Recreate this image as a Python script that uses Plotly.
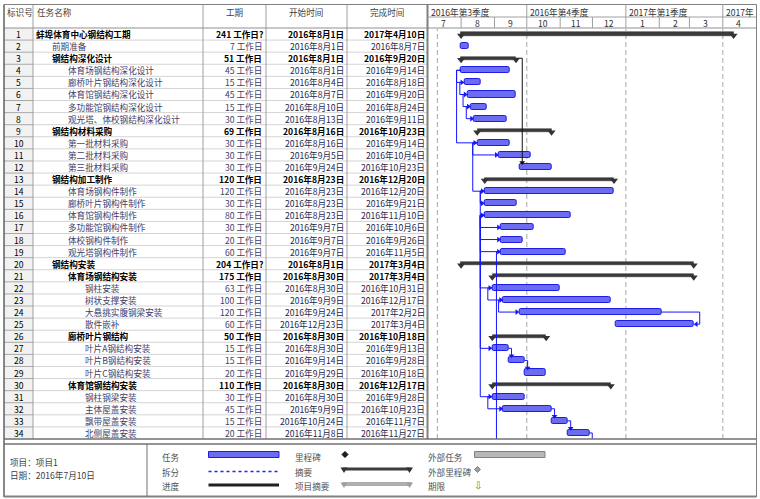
import plotly.graph_objects as go
from datetime import datetime, timedelta

W, H = 760, 499

# ---------------- data ----------------
task_ids = list(range(1, 35))
task_names = ["蚌埠体育中心钢结构工期", "前期准备", "钢结构深化设计", "体育场钢结构深化设计",
              "廊桥叶片钢结构深化设计", "体育馆钢结构深化设计", "多功能馆钢结构深化设计",
              "观光塔、体校钢结构深化设计", "钢结构材料采购", "第一批材料采购", "第二批材料采购",
              "第三批材料采购", "钢结构加工制作", "体育场钢构件制作", "廊桥叶片钢构件制作",
              "体育馆钢构件制作", "多功能馆钢构件制作", "体校钢构件制作", "观光塔钢构件制作",
              "钢结构安装", "体育场钢结构安装", "钢柱安装", "树状支撑安装", "大悬挑实腹钢梁安装",
              "散件嵌补", "廊桥叶片钢结构", "叶片A钢结构安装", "叶片B钢结构安装", "叶片C钢结构安装",
              "体育馆钢结构安装", "钢柱钢梁安装", "主体屋盖安装", "飘带屋盖安装", "北侧屋盖安装"]
outline_levels = [0, 1, 1, 2, 2, 2, 2, 2, 1, 2, 2, 2, 1, 2, 2, 2, 2, 2, 2, 1, 2, 3, 3, 3, 3, 2, 3, 3, 3, 2, 3, 3, 3, 3]
is_summary = [1, 0, 1, 0, 0, 0, 0, 0, 1, 0, 0, 0, 1, 0, 0, 0, 0, 0, 0, 1, 1, 0, 0, 0, 0, 1, 0, 0, 0, 1, 0, 0, 0, 0]
duration_days = [241, 7, 51, 45, 15, 45, 15, 30, 69, 30, 30, 30, 120, 120, 30, 80, 30, 20, 60,
                 204, 175, 63, 100, 120, 60, 50, 15, 15, 20, 110, 30, 45, 15, 20]
duration_estimated = [1, 0, 0, 0, 0, 0, 0, 0, 0, 0, 0, 0, 0, 0, 0, 0, 0, 0, 0, 1, 0, 0, 0, 0, 0, 0, 0, 0, 0, 0, 0, 0, 0, 0]
start_dates = ["2016-08-01", "2016-08-01", "2016-08-01", "2016-08-01", "2016-08-04", "2016-08-07",
               "2016-08-10", "2016-08-13", "2016-08-16", "2016-08-16", "2016-09-05", "2016-09-24",
               "2016-08-23", "2016-08-23", "2016-08-23", "2016-08-23", "2016-09-07", "2016-09-07",
               "2016-09-07", "2016-08-01", "2016-08-30", "2016-08-30", "2016-09-09", "2016-09-24",
               "2016-12-23", "2016-08-30", "2016-08-30", "2016-09-14", "2016-09-29", "2016-08-30",
               "2016-08-30", "2016-09-09", "2016-10-24", "2016-11-08"]
finish_dates = ["2017-04-10", "2016-08-07", "2016-09-20", "2016-09-14", "2016-08-18", "2016-09-20",
                "2016-08-24", "2016-09-11", "2016-10-23", "2016-09-14", "2016-10-04", "2016-10-23",
                "2016-12-20", "2016-12-20", "2016-09-21", "2016-11-10", "2016-10-06", "2016-09-26",
                "2016-11-05", "2017-03-04", "2017-03-04", "2016-10-31", "2016-12-17", "2017-02-02",
                "2017-03-04", "2016-10-18", "2016-09-13", "2016-09-28", "2016-10-18", "2016-12-17",
                "2016-09-28", "2016-10-23", "2016-11-07", "2016-11-27"]
# (predecessor, successor, type); successor None = task below the visible rows
links = [(4, 5, "SS"), (5, 6, "SS"), (6, 7, "SS"), (7, 8, "SS"), (4, 10, "SS"), (3, 12, "FS"),
         (10, 11, "SS"), (10, 14, "SS"), (14, 15, "SS"), (14, 16, "SS"), (16, 17, "SS"),
         (16, 18, "SS"), (16, 19, "SS"), (16, 22, "SS"), (16, 27, "SS"), (16, 31, "SS"),
         (19, None, "SS"), (22, 23, "SS"), (23, 24, "SS"), (24, 25, "FF"), (27, 28, "FS"),
         (28, 29, "FS"), (31, 32, "SS"), (32, 33, "FS"), (33, 34, "FS"), (34, None, "FS")]

column_headers = ["标识号", "任务名称", "工期", "开始时间", "完成时间"]
quarter_starts = ["2016-07-01", "2016-10-01", "2017-01-01", "2017-04-01"]
quarter_labels = ["2016年第3季度", "2016年第4季度", "2017年第1季度", "2017年"]
month_starts = ["2016-07-01", "2016-08-01", "2016-09-01", "2016-10-01", "2016-11-01", "2016-12-01",
                "2017-01-01", "2017-02-01", "2017-03-01", "2017-04-01"]
month_labels = ["7", "8", "9", "10", "11", "12", "1", "2", "3", "4"]
project_start_line = "2016-07-10"
project_info = ["项目：项目1", "日期：2016年7月10日"]
legend_labels = [["任务", "拆分", "进度"], ["里程碑", "摘要", "项目摘要"], ["外部任务", "外部里程碑", "期限"]]

# ---------------- layout constants ----------------
FONT = "Noto Sans CJK SC"
FS = 8.6
GX0, GX1 = 427.7, 756.5      # gantt area (px)
GY0, GY1 = 28.0, 439.0       # body rows (px)
TOP = 4.5
PX_PER_DAY = 1.077
x_start = datetime(2016, 7, 1)
x_end = x_start + timedelta(days=(GX1 - GX0) / PX_PER_DAY)
COLS = [4, 33, 203, 266, 347, 427.5]
NAME_X = [35, 51, 67, 84]

def px(v):
    return v / W

def py(v):
    return 1 - v / H

def d(s):
    return datetime.strptime(s, "%Y-%m-%d")

def shift(dt, p):
    return dt + timedelta(days=p / PX_PER_DAY)

def fmt_cn(s):
    t = d(s)
    return f"{t.year}年{t.month}月{t.day}日"

starts = [d(s) for s in start_dates]
ends = [d(s) + timedelta(days=1) for s in finish_dates]

fig = go.Figure()
shapes = []
ann = []

# ---------------- table background / grid ----------------
shapes.append(dict(type="rect", xref="paper", yref="paper", x0=px(COLS[0]), x1=px(COLS[1]),
                   y0=py(GY1), y1=py(GY0), fillcolor="#f2f2f2", line=dict(width=0), layer="below"))
for i in task_ids[:-1]:
    shapes.append(dict(type="line", xref="paper", yref="y", x0=px(COLS[1]), x1=px(COLS[5]),
                       y0=i + 0.5, y1=i + 0.5, line=dict(color="#d4d4d4", width=1), layer="below"))
    shapes.append(dict(type="line", xref="paper", yref="y", x0=px(COLS[0]), x1=px(COLS[1]),
                       y0=i + 0.5, y1=i + 0.5, line=dict(color="#a8a8a8", width=1), layer="below"))
for c in COLS[1:5]:
    shapes.append(dict(type="line", xref="paper", yref="paper", x0=px(c), x1=px(c),
                       y0=py(GY1), y1=py(TOP), line=dict(color="#a0a0a0", width=1)))
# header bottom, top border, frame
shapes.append(dict(type="line", xref="paper", yref="paper", x0=px(COLS[0]), x1=px(GX1),
                   y0=py(GY0), y1=py(GY0), line=dict(color="#909090", width=1)))
shapes.append(dict(type="line", xref="paper", yref="paper", x0=px(COLS[0]), x1=px(GX1),
                   y0=py(TOP), y1=py(TOP), line=dict(color="#808080", width=1)))
shapes.append(dict(type="line", xref="paper", yref="paper", x0=px(COLS[0]), x1=px(COLS[0]),
                   y0=py(497), y1=py(TOP), line=dict(color="#606060", width=1.5)))
shapes.append(dict(type="line", xref="paper", yref="paper", x0=px(GX1), x1=px(GX1),
                   y0=py(497), y1=py(TOP), line=dict(color="#808080", width=1)))
shapes.append(dict(type="line", xref="paper", yref="paper", x0=px(COLS[5]), x1=px(COLS[5]),
                   y0=py(GY1), y1=py(TOP), line=dict(color="#808080", width=2)))
shapes.append(dict(type="line", xref="paper", yref="paper", x0=px(COLS[0]), x1=px(GX1),
                   y0=py(GY1), y1=py(GY1), line=dict(color="#707070", width=1.5)))
shapes.append(dict(type="line", xref="paper", yref="paper", x0=px(COLS[0]), x1=px(GX1),
                   y0=py(444), y1=py(444), line=dict(color="#707070", width=1.5)))
shapes.append(dict(type="line", xref="paper", yref="paper", x0=px(COLS[0]), x1=px(GX1),
                   y0=py(496.5), y1=py(496.5), line=dict(color="#808080", width=2)))
shapes.append(dict(type="line", xref="paper", yref="paper", x0=px(147), x1=px(147),
                   y0=py(496.5), y1=py(444), line=dict(color="#707070", width=1)))

# ---------------- table header ----------------
hdr_pos = [(5, "left"), (35, "left"), (234, "center"), (306, "center"), (387, "center")]
for (xx, anc), txt in zip(hdr_pos, column_headers):
    ann.append(dict(xref="paper", yref="paper", x=px(xx), y=py(12), text=txt, showarrow=False,
                    xanchor=anc, yanchor="middle", font=dict(family=FONT, size=FS, color="#404040")))

# ---------------- table body ----------------
for i, name, lvl, sm, dur, est, s, f in zip(task_ids, task_names, outline_levels, is_summary,
                                           duration_days, duration_estimated, start_dates, finish_dates):
    w = "bold" if sm else "normal"
    c_txt = "#000000" if sm else "#40406a"
    c_dt = "#000000" if sm else "#26264a"
    ann.append(dict(xref="paper", yref="y", x=px(18.5), y=i, text=str(i), showarrow=False,
                    xanchor="center", yanchor="middle", font=dict(family=FONT, size=FS, color="#000000")))
    ann.append(dict(xref="paper", yref="y", x=px(NAME_X[lvl] - 1), y=i, text=name, showarrow=False,
                    xanchor="left", yanchor="middle", font=dict(family=FONT, size=FS, color=c_txt, weight=w)))
    dtxt = f"{dur} 工作日" + ("?" if est else "")
    ann.append(dict(xref="paper", yref="y", x=px(265 if est else 264), y=i, text=dtxt, showarrow=False,
                    xanchor="right", yanchor="middle", font=dict(family=FONT, size=FS, color=c_txt, weight=w)))
    ann.append(dict(xref="paper", yref="y", x=px(346), y=i, text=fmt_cn(s), showarrow=False,
                    xanchor="right", yanchor="middle", font=dict(family=FONT, size=FS, color=c_dt, weight=w)))
    ann.append(dict(xref="paper", yref="y", x=px(427), y=i, text=fmt_cn(f), showarrow=False,
                    xanchor="right", yanchor="middle", font=dict(family=FONT, size=FS, color=c_dt, weight=w)))

# ---------------- timescale header ----------------
shapes.append(dict(type="line", xref="paper", yref="paper", x0=px(GX0), x1=px(GX1),
                   y0=py(17), y1=py(17), line=dict(color="#a0a0a0", width=1)))
for q, lab in zip(quarter_starts, quarter_labels):
    if q != quarter_starts[0]:
        shapes.append(dict(type="line", xref="x", yref="paper", x0=q, x1=q, y0=py(GY0), y1=py(TOP),
                           line=dict(color="#a0a0a0", width=1)))
    ann.append(dict(xref="x", yref="paper", x=shift(d(q), 1.5), y=py(12), text=lab, showarrow=False,
                    xanchor="left", yanchor="middle", font=dict(family=FONT, size=FS, color="#303030")))
for m, lab in zip(month_starts, month_labels):
    if m not in quarter_starts:
        shapes.append(dict(type="line", xref="x", yref="paper", x0=m, x1=m, y0=py(GY0), y1=py(17),
                           line=dict(color="#a0a0a0", width=1)))
    ann.append(dict(xref="x", yref="paper", x=d(m) + timedelta(days=15), y=py(23.3), text=lab,
                    showarrow=False, xanchor="center", yanchor="middle",
                    font=dict(family=FONT, size=FS, color="#303030")))

# ---------------- gantt vertical guide lines ----------------
for v in [project_start_line] + quarter_starts[1:]:
    shapes.append(dict(type="line", xref="x", yref="paper", x0=v, x1=v, y0=py(GY1), y1=py(GY0 + 1),
                       line=dict(color="#b4b4b4", width=1.2, dash="5px,3px"), layer="below"))

# ---------------- links ----------------
def link_paths(color_summary):
    xs, ys = [], []
    arr = {"r": ([], []), "d": ([], []), "l": ([], [])}
    for p, s, typ in links:
        if bool(is_summary[p - 1]) != color_summary:
            continue
        rp = p
        ps, pe = starts[p - 1], ends[p - 1]
        if s is None:
            rs = 40
            if typ == "SS":
                vx = shift(ps, -4.5)
                xs += [ps, vx, vx, None]; ys += [rp, rp, rs, None]
            else:
                vx = shift(pe, 3)
                xs += [pe, vx, vx, None]; ys += [rp, rp, rs, None]
            continue
        rs = s
        ss, se = starts[s - 1], ends[s - 1]
        if typ == "SS":
            vx = shift(min(ps, ss), -4.5)
            tip = shift(ss, -2.5)
            xs += [ps, vx, vx, tip, None]; ys += [rp, rp, rs, rs, None]
            arr["r"][0].append(tip); arr["r"][1].append(rs)
        elif typ == "FS":
            vx = shift(max(pe, ss), 3)
            yt = rs - 0.38
            xs += [pe, vx, vx, None]; ys += [rp, rp, yt, None]
            arr["d"][0].append(vx); arr["d"][1].append(yt)
        else:  # FF
            vx = shift(max(pe, se), 6)
            tip = shift(se, 2.5)
            xs += [pe, vx, vx, tip, None]; ys += [rp, rp, rs, rs, None]
            arr["l"][0].append(tip); arr["l"][1].append(rs)
    return xs, ys, arr

for summ, col in [(False, "#1414ff"), (True, "#111111")]:
    xs, ys, arr = link_paths(summ)
    fig.add_trace(go.Scatter(x=xs, y=ys, mode="lines", line=dict(color=col, width=1),
                             hoverinfo="skip", cliponaxis=True))
    for k, sym in [("r", "triangle-right"), ("d", "triangle-down"), ("l", "triangle-left")]:
        if arr[k][0]:
            fig.add_trace(go.Scatter(x=arr[k][0], y=arr[k][1], mode="markers",
                                     marker=dict(symbol=sym, size=5, color=col), hoverinfo="skip"))

# ---------------- bars ----------------
t_idx = [k for k in range(len(task_ids)) if not is_summary[k]]
s_idx = [k for k in range(len(task_ids)) if is_summary[k]]
fig.add_trace(go.Bar(orientation="h", y=[task_ids[k] for k in t_idx],
                     base=[starts[k] for k in t_idx],
                     x=[(ends[k] - starts[k]).total_seconds() * 1000 for k in t_idx],
                     width=0.5, marker=dict(color="#6c6cf2", line=dict(color="#1c1ce6", width=1), cornerradius=2),
                     hoverinfo="skip"))
fig.add_trace(go.Bar(orientation="h", y=[task_ids[k] for k in s_idx],
                     base=[starts[k] for k in s_idx],
                     x=[(ends[k] - starts[k]).total_seconds() * 1000 for k in s_idx],
                     width=0.26, marker=dict(color="#3c3c3c", line=dict(color="#202020", width=0.5)),
                     hoverinfo="skip"))
fig.add_trace(go.Scatter(x=[starts[k] for k in s_idx] + [ends[k] for k in s_idx],
                         y=[task_ids[k] + 0.12 for k in s_idx] * 2, mode="markers",
                         marker=dict(symbol="triangle-down", size=7, color="#333333"), hoverinfo="skip"))

# ---------------- legend block ----------------
ann.append(dict(xref="paper", yref="paper", x=px(8), y=py(462), text=project_info[0], showarrow=False,
                xanchor="left", yanchor="middle", font=dict(family=FONT, size=FS, color="#404040")))
ann.append(dict(xref="paper", yref="paper", x=px(8), y=py(475), text=project_info[1], showarrow=False,
                xanchor="left", yanchor="middle", font=dict(family=FONT, size=FS, color="#404040")))
leg_x = [160, 293, 426]
leg_y = [457, 471.5, 486]
for cx, labs in zip(leg_x, legend_labels):
    for yy, lab in zip(leg_y, labs):
        ann.append(dict(xref="paper", yref="paper", x=px(cx), y=py(yy), text=lab, showarrow=False,
                        xanchor="left", yanchor="middle", font=dict(family=FONT, size=FS, color="#505050")))
# task
shapes.append(dict(type="rect", xref="paper", yref="paper", x0=px(208.5), x1=px(279), y0=py(457.5), y1=py(451.5),
                   fillcolor="#6c6cf2", line=dict(color="#1c1ce6", width=1)))
# split
shapes.append(dict(type="line", xref="paper", yref="paper", x0=px(208.5), x1=px(279), y0=py(471.5), y1=py(471.5),
                   line=dict(color="#2020ff", width=1.5, dash="dot")))
# progress
shapes.append(dict(type="line", xref="paper", yref="paper", x0=px(208.5), x1=px(279), y0=py(485), y1=py(485),
                   line=dict(color="#202020", width=3)))
# milestone
def diamond(cx, cy, r, fill, line):
    return dict(type="path", xref="paper", yref="paper",
                path=f"M {px(cx)} {py(cy - r)} L {px(cx + r)} {py(cy)} L {px(cx)} {py(cy + r)} L {px(cx - r)} {py(cy)} Z",
                fillcolor=fill, line=dict(color=line, width=1))
shapes.append(diamond(345, 454.5, 3, "#202020", "#000000"))
shapes.append(diamond(477.5, 469.5, 3, "#a0a0a0", "#808080"))
def tri(cx, cy, fill):
    return dict(type="path", xref="paper", yref="paper",
                path=f"M {px(cx - 3.5)} {py(cy - 1.5)} L {px(cx + 3.5)} {py(cy - 1.5)} L {px(cx)} {py(cy + 4)} Z",
                fillcolor=fill, line=dict(width=0))
# summary
shapes.append(dict(type="rect", xref="paper", yref="paper", x0=px(343), x1=px(410.5), y0=py(470.5), y1=py(467.5),
                   fillcolor="#3c3c3c", line=dict(width=0)))
shapes.append(tri(344, 469, "#333333")); shapes.append(tri(409.5, 469, "#333333"))
# project summary
shapes.append(dict(type="rect", xref="paper", yref="paper", x0=px(343), x1=px(410.5), y0=py(485.5), y1=py(482.5),
                   fillcolor="#b0b0b0", line=dict(color="#808080", width=0.5)))
shapes.append(tri(344, 484, "#a0a0a0")); shapes.append(tri(409.5, 484, "#a0a0a0"))
# external task
shapes.append(dict(type="rect", xref="paper", yref="paper", x0=px(474.5), x1=px(545), y0=py(457.5), y1=py(451.5),
                   fillcolor="#b8b8b8", line=dict(color="#808080", width=1)))
# deadline
ann.append(dict(xref="paper", yref="paper", x=px(477.5), y=py(485), text="⇩", showarrow=False,
                xanchor="center", yanchor="middle", font=dict(family="DejaVu Sans", size=10, color="#2e9a2e")))

fig.update_layout(
    width=W, height=H, margin=dict(l=0, r=0, t=0, b=0),
    paper_bgcolor="white", plot_bgcolor="rgba(0,0,0,0)", showlegend=False,
    barmode="overlay", bargap=0,
    xaxis=dict(type="date", domain=[px(GX0), px(GX1)], range=[x_start, x_end], visible=False, fixedrange=True),
    yaxis=dict(domain=[py(GY1), py(GY0)], range=[34.5, 0.5], visible=False, fixedrange=True),
    shapes=shapes, annotations=ann,
)
fig.write_html("out.html")
